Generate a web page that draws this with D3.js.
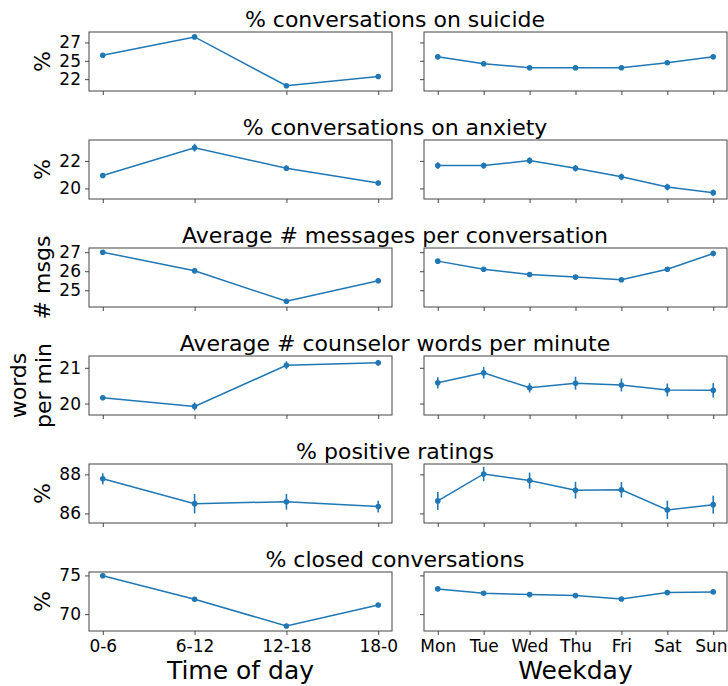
<!DOCTYPE html>
<html>
<head>
<meta charset="utf-8">
<script src="https://cdn.jsdelivr.net/npm/d3@7"></script>
<style>
  html, body { margin: 0; padding: 0; background: #fff; }
  svg { display: block; font-family: "DejaVu Sans", sans-serif; }
</style>
</head>
<body>
<svg id="chart" width="728" height="686"></svg>
<script>
// ---------- data ----------
const timeLabels = ["0-6", "6-12", "12-18", "18-0"];
const weekdayLabels = ["Mon", "Tue", "Wed", "Thu", "Fri", "Sat", "Sun"];

const titles = [
  "% conversations on suicide",
  "% conversations on anxiety",
  "Average # messages per conversation",
  "Average # counselor words per minute",
  "% positive ratings",
  "% closed conversations"
];
const yLabels = [["%"], ["%"], ["# msgs"], ["words", "per min"], ["%"], ["%"]];

const yTickValues = [[22.5, 25, 27.5], [20, 22], [25, 26, 27], [20, 21], [86, 88], [70, 75]];
const yTickLabels = [["22", "25", "27"], ["20", "22"], ["25", "26", "27"], ["20", "21"], ["86", "88"], ["70", "75"]];
const yDomains = [[20.89, 28.92], [19.23, 23.52], [24.12, 27.22], [19.68, 21.33], [85.51, 88.53], [67.82, 75.44]];

// time-of-day series (mean, error)
const suicideTime = [25.75, 28.25, 21.6, 22.86];
const suicideTimeErr = [0.1, 0.15, 0.12, 0.12];
const anxietyTime = [20.94, 22.96, 21.47, 20.39];
const anxietyTimeErr = [0.1, 0.28, 0.2, 0.12];
const msgsTime = [27.0, 26.02, 24.42, 25.5];
const msgsTimeErr = [0.04, 0.05, 0.05, 0.05];
const wordsTime = [20.16, 19.92, 21.07, 21.14];
const wordsTimeErr = [0.05, 0.11, 0.11, 0.08];
const ratingsTime = [87.77, 86.5, 86.6, 86.35];
const ratingsTimeErr = [0.28, 0.5, 0.4, 0.3];
const closedTime = [74.95, 71.92, 68.47, 71.17];
const closedTimeErr = [0.1, 0.3, 0.15, 0.15];

// weekday series (mean, error)
const suicideWeek = [25.54, 24.6, 24.06, 24.06, 24.06, 24.73, 25.54];
const suicideWeekErr = [0.15, 0.15, 0.12, 0.12, 0.12, 0.15, 0.18];
const anxietyWeek = [21.66, 21.66, 22.02, 21.47, 20.84, 20.1, 19.69];
const anxietyWeekErr = [0.24, 0.22, 0.24, 0.24, 0.24, 0.24, 0.22];
const msgsWeek = [26.53, 26.1, 25.83, 25.69, 25.55, 26.1, 26.93];
const msgsWeekErr = [0.12, 0.08, 0.08, 0.08, 0.08, 0.08, 0.15];
const wordsWeek = [20.58, 20.86, 20.44, 20.57, 20.52, 20.38, 20.37];
const wordsWeekErr = [0.155, 0.16, 0.13, 0.18, 0.18, 0.18, 0.2];
const ratingsWeek = [86.64, 88.02, 87.68, 87.19, 87.21, 86.18, 86.45];
const ratingsWeekErr = [0.46, 0.37, 0.41, 0.43, 0.4, 0.47, 0.46];
const closedWeek = [73.26, 72.7, 72.52, 72.39, 71.96, 72.78, 72.87];
const closedWeekErr = [0.15, 0.15, 0.12, 0.12, 0.15, 0.15, 0.12];

const timeSeries = [
  [suicideTime, suicideTimeErr], [anxietyTime, anxietyTimeErr], [msgsTime, msgsTimeErr],
  [wordsTime, wordsTimeErr], [ratingsTime, ratingsTimeErr], [closedTime, closedTimeErr]
];
const weekSeries = [
  [suicideWeek, suicideWeekErr], [anxietyWeek, anxietyWeekErr], [msgsWeek, msgsWeekErr],
  [wordsWeek, wordsWeekErr], [ratingsWeek, ratingsWeekErr], [closedWeek, closedWeekErr]
];

// ---------- layout ----------
const W = 728, H = 686;
const svg = d3.select("#chart");
svg.append("rect").attr("width", W).attr("height", H).attr("fill", "#fff");

const color = "#1f77b4";
const leftX = [89, 392];
const rightX = [424, 727];
const rowTop0 = 32, rowStep = 108, panelH = 59;
const titleX = 395;
const xMargin = 0.05; // matplotlib-like 5% margin

function drawPanel(g, x0, x1, top, labels, vals, errs, yScale, row, showYLabels, showXLabels) {
  const n = labels.length;
  const span = n - 1;
  const x = d3.scaleLinear().domain([-xMargin * span, span * (1 + xMargin)]).range([x0, x1]);
  const bottom = top + panelH;

  // y axis
  const yAxis = d3.axisLeft(yScale)
    .tickValues(yTickValues[row])
    .tickSize(4)
    .tickPadding(4)
    .tickFormat((d, i) => showYLabels ? yTickLabels[row][i] : "");
  const ya = g.append("g").attr("transform", `translate(${x0},0)`).call(yAxis);
  ya.select(".domain").remove();
  ya.selectAll("line").attr("stroke", "#333").attr("stroke-width", 0.9);
  ya.selectAll("text").attr("font-size", 17).attr("fill", "#000").attr("font-family", "DejaVu Sans, sans-serif");

  // x axis
  const xAxis = d3.axisBottom(x)
    .tickValues(d3.range(n))
    .tickSize(4)
    .tickPadding(5)
    .tickFormat(i => showXLabels ? labels[i] : "");
  const xa = g.append("g").attr("transform", `translate(0,${bottom})`).call(xAxis);
  xa.select(".domain").remove();
  xa.selectAll("line").attr("stroke", "#333").attr("stroke-width", 0.9);
  xa.selectAll("text").attr("font-size", 17).attr("fill", "#000").attr("font-family", "DejaVu Sans, sans-serif");
  // keep labels inside the figure edge
  xa.selectAll("text").each(function(d) {
    const bb = this.getBBox();
    const right = x(d) + bb.x + bb.width;
    if (right > W - 1) d3.select(this).attr("dx", (W - 1 - right));
  });

  // frame
  g.append("rect")
    .attr("x", x0).attr("y", top).attr("width", x1 - x0).attr("height", panelH)
    .attr("fill", "none").attr("stroke", "#444").attr("stroke-width", 1);

  // error bars
  g.selectAll(null).data(vals).enter().append("line")
    .attr("x1", (d, i) => x(i)).attr("x2", (d, i) => x(i))
    .attr("y1", (d, i) => yScale(d - errs[i])).attr("y2", (d, i) => yScale(d + errs[i]))
    .attr("stroke", color).attr("stroke-width", 1.6);

  // line
  const line = d3.line().x((d, i) => x(i)).y(d => yScale(d));
  g.append("path").datum(vals).attr("d", line)
    .attr("fill", "none").attr("stroke", color).attr("stroke-width", 1.5);

  // markers
  g.selectAll(null).data(vals).enter().append("circle")
    .attr("cx", (d, i) => x(i)).attr("cy", d => yScale(d)).attr("r", 2.8)
    .attr("fill", color);
}

for (let r = 0; r < 6; r++) {
  const top = rowTop0 + r * rowStep;
  const bottom = top + panelH;
  const y = d3.scaleLinear().domain(yDomains[r]).range([bottom, top]);
  const g = svg.append("g");
  const last = r === 5;

  drawPanel(g, leftX[0], leftX[1], top, timeLabels, timeSeries[r][0], timeSeries[r][1], y, r, true, last);
  drawPanel(g, rightX[0], rightX[1], top, weekdayLabels, weekSeries[r][0], weekSeries[r][1], y, r, false, last);

  // title
  svg.append("text").attr("x", titleX).attr("y", top - 5)
    .attr("text-anchor", "middle").attr("font-size", 22).attr("fill", "#000")
    .text(titles[r]);

  // y label
  const lines = yLabels[r];
  const cy = (top + bottom) / 2;
  const baseX = lines.length === 1 ? 50 : 26;
  lines.forEach((t, k) => {
    const xx = baseX + k * 25;
    svg.append("text")
      .attr("transform", `translate(${xx},${cy}) rotate(-90)`)
      .attr("text-anchor", "middle").attr("font-size", 22).attr("fill", "#000")
      .text(t);
  });
}

// x axis labels
svg.append("text").attr("x", (leftX[0] + leftX[1]) / 2).attr("y", 679)
  .attr("text-anchor", "middle").attr("font-size", 25).attr("fill", "#000").text("Time of day");
svg.append("text").attr("x", (rightX[0] + rightX[1]) / 2).attr("y", 679)
  .attr("text-anchor", "middle").attr("font-size", 25).attr("fill", "#000").text("Weekday");
</script>
</body>
</html>
